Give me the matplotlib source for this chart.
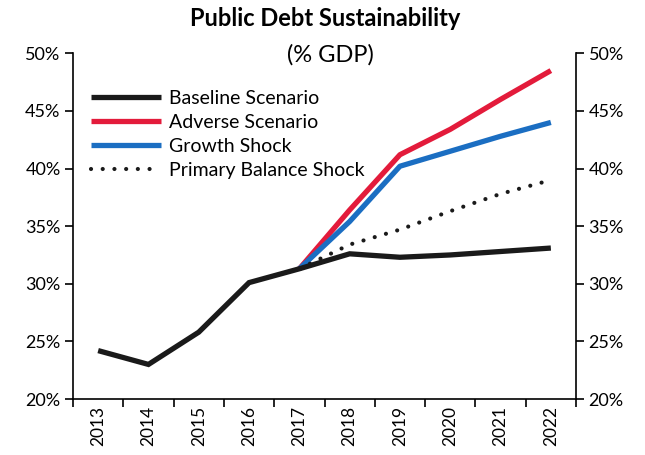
import matplotlib
matplotlib.use("Agg")
import matplotlib.pyplot as plt
from matplotlib.ticker import FixedLocator, FuncFormatter

plt.rcParams['font.family'] = ['Lato', 'DejaVu Sans']

years = ['2013', '2014', '2015', '2016', '2017', '2018', '2019', '2020', '2021', '2022']
baseline = [24.2, 23.0, 25.8, 30.1, 31.3, 32.6, 32.3, 32.5, 32.8, 33.1]
proj_years = ['2017', '2018', '2019', '2020', '2021', '2022']
adverse = [31.3, 36.4, 41.2, 43.4, 46.0, 48.5]
growth = [31.3, 35.4, 40.2, 41.5, 42.8, 44.0]
primary = [31.3, 33.4, 34.7, 36.3, 37.8, 39.0]
yticks = [20, 25, 30, 35, 40, 45, 50]

fig = plt.figure(figsize=(6.45, 4.55), dpi=100)
ax = fig.add_axes([73/645, 1-399/455, (576-73)/645, (399-53.3)/455])

xi = {y: i for i, y in enumerate(years)}
px = [xi[y] for y in proj_years]
bx = list(range(len(years)))

lw = 3.8
ax.plot(bx, baseline, color='#1a1a1a', lw=lw, solid_capstyle='butt', solid_joinstyle='miter', label='Baseline Scenario', zorder=3)
ax.plot(px, adverse, color='#E31B3B', lw=lw, solid_capstyle='butt', label='Adverse Scenario', zorder=2)
ax.plot(px, growth, color='#1B6EC2', lw=lw, solid_capstyle='butt', label='Growth Shock', zorder=2.5)
ax.plot(px, primary, color='#1a1a1a', lw=3.0, linestyle=(0, (0.01, 2.8)), dash_capstyle='round', label='Primary Balance Shock', zorder=2.7)

ax.set_xlim(-0.5, len(years) - 0.5)
ax.set_ylim(20, 50)
ax.set_yticks(yticks)
ax.yaxis.set_major_formatter(FuncFormatter(lambda v, p: f'{v:.0f}%'))
ax.tick_params(axis='y', which='both', direction='out', length=6, width=1.2, labelsize=13, left=True, right=True, labelleft=True, labelright=True, pad=3)

ax.xaxis.set_major_locator(FixedLocator(bx))
ax.set_xticklabels(years, rotation=90, fontsize=12.5)
ax.xaxis.set_minor_locator(FixedLocator([i - 0.5 for i in range(len(years) + 1)]))
ax.tick_params(axis='x', which='major', length=0, pad=5)
ax.tick_params(axis='x', which='minor', length=6, width=1.2, direction='out')

ax.spines['top'].set_visible(False)
for s in ['left', 'right', 'bottom']:
    ax.spines[s].set_linewidth(1.2)
    ax.spines[s].set_color('#000000')

leg = ax.legend(loc='upper left', bbox_to_anchor=(0.02, 0.916), frameon=False, fontsize=14,
                handlelength=3.6, handletextpad=0.4, labelspacing=0.36, borderaxespad=0)

fig.text(325/645, 1-19/455, 'Public Debt Sustainability', ha='center', va='center', fontsize=17, fontweight='bold')
fig.text(330/645, 1-55/455, '(% GDP)', ha='center', va='center', fontsize=17)

fig.savefig('out.png', dpi=100)
